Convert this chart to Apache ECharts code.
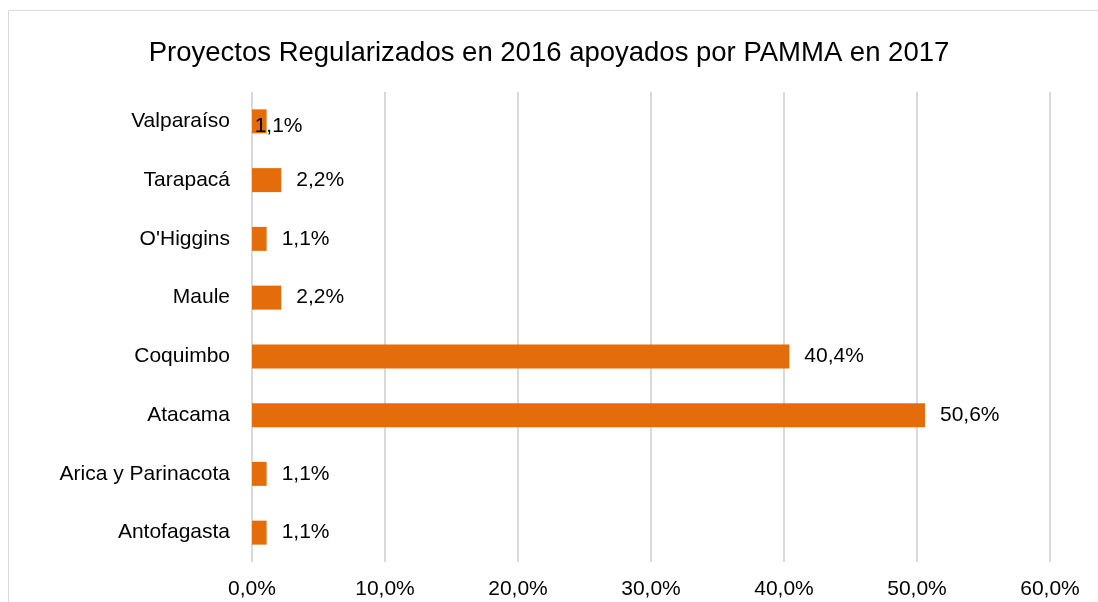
<!DOCTYPE html>
<html>
<head>
<meta charset="utf-8">
<script src="https://cdn.jsdelivr.net/npm/echarts@6/dist/echarts.min.js"></script>
<style>
  html, body { margin: 0; padding: 0; background: #fff; }
  #chart { width: 1098px; height: 602px; }
</style>
</head>
<body>
<div id="chart"></div>
<script>
// datos (de abajo hacia arriba)
var regiones = ['Antofagasta', 'Arica y Parinacota', 'Atacama', 'Coquimbo', 'Maule', "O'Higgins", 'Tarapacá', 'Valparaíso'];
var porcentajes = [1.1, 1.1, 50.6, 40.4, 2.2, 1.1, 2.2, 1.1];
var tituloTexto = 'Proyectos Regularizados en 2016 apoyados por PAMMA en 2017';

var fuente = "'Liberation Sans Narrow', 'Arial Narrow', 'Liberation Sans', sans-serif";
function fmt(v) { return Number(v).toFixed(1).replace('.', ',') + '%'; }

var myChart = echarts.init(document.getElementById('chart'));
var serieData = porcentajes.map(function (v, i) {
    var item = { value: v };
    if (regiones[i] === 'Valparaíso') { // etiqueta encima de la barra
        item.label = { offset: [-27, 5] };
    }
    return item;
});
var option = {
    animation: false,
    graphic: [{
        type: 'rect',
        shape: { x: 8.5, y: 10.5, width: 1100, height: 600 },
        style: { fill: 'none', stroke: '#d9d9d9', lineWidth: 1 }
    }],
    title: {
        text: tituloTexto,
        left: 'center',
        top: 34,
        textStyle: { fontFamily: fuente, fontSize: 27.5, fontWeight: 'normal', color: '#000' }
    },
    grid: { left: 252, right: 48, top: 92, bottom: 40 },
    xAxis: {
        type: 'value',
        min: 0, max: 60, interval: 10,
        axisLine: { show: false },
        axisTick: { show: false },
        axisLabel: {
            fontFamily: fuente, fontSize: 21, color: '#000', margin: 17,
            formatter: fmt
        },
        splitLine: { lineStyle: { color: '#d9d9d9', width: 2 } }
    },
    yAxis: {
        type: 'category',
        data: regiones,
        axisLine: { show: false },
        axisTick: { show: false },
        axisLabel: { fontFamily: fuente, fontSize: 21, color: '#000', margin: 22 }
    },
    series: [{
        type: 'bar',
        data: serieData,
        barWidth: 24,
        itemStyle: { color: '#E46C0A' },
        label: {
            show: true, position: 'right', distance: 15,
            fontFamily: fuente, fontSize: 21, color: '#000',
            formatter: function (p) { return fmt(p.value); }
        }
    }]
};
myChart.setOption(option);
</script>
</body>
</html>
